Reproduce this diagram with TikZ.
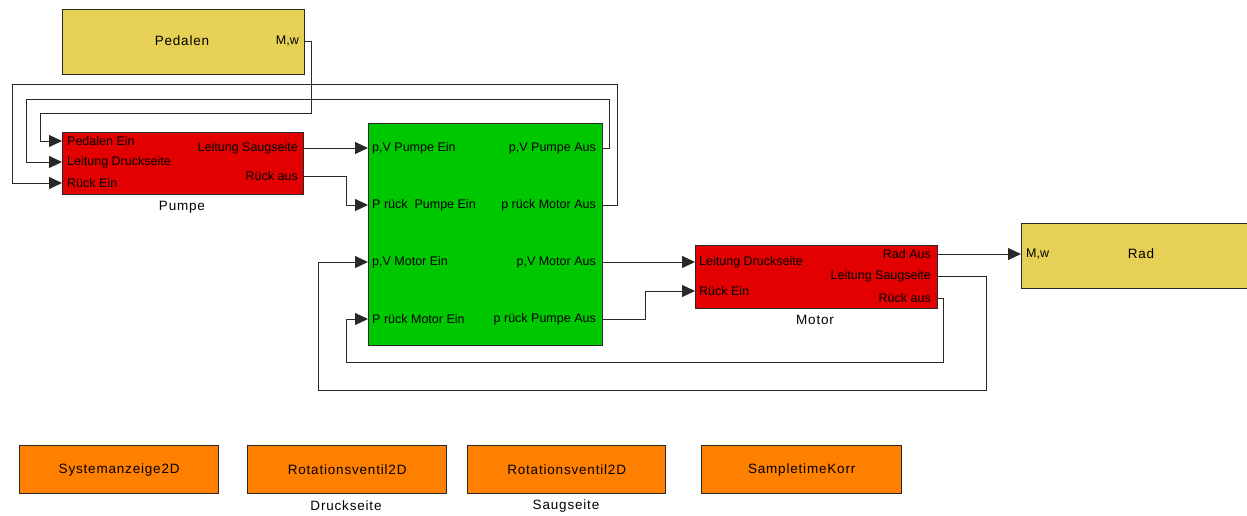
\documentclass[tikz,border=0pt]{standalone}
\usepackage{fontspec}
\setmainfont{Liberation Sans}
\newfontfamily\titlefont[LetterSpace=6]{Liberation Sans}
\usetikzlibrary{arrows.meta}
\definecolor{blkY}{RGB}{230,208,85}
\definecolor{blkR}{RGB}{226,0,0}
\definecolor{blkG}{RGB}{0,200,0}
\definecolor{blkO}{RGB}{255,128,0}
\definecolor{wireC}{RGB}{40,40,40}
\begin{document}
\begin{tikzpicture}[x=1pt,y=-1pt,
  blockbox/.style={draw=wireC, line width=1.3pt, inner sep=0pt, anchor=north west},
  portin/.style={anchor=west, font=\fontsize{12.5}{14}\selectfont, inner sep=0pt},
  portout/.style={anchor=east, font=\fontsize{12.5}{14}\selectfont, inner sep=0pt},
  titlelbl/.style={font=\titlefont\fontsize{13.5}{16}\selectfont, inner sep=0pt},
  wire/.style={draw=wireC, line width=1pt},
  arr/.style={wire, -{Triangle[length=13pt,width=12pt]}}
]
\useasboundingbox (0,0) rectangle (1247,515);

% Pedalen
\node[blockbox, fill=blkY, minimum width=242pt, minimum height=65pt] (pedalen) at (62,9) {};
\node[titlelbl] (pedT) at (182,41) {Pedalen};
\node[portout] (pedMw) at (299,41) {M,w};

% Pumpe
\node[blockbox, fill=blkR, minimum width=241pt, minimum height=62pt] (pumpe) at (62,132) {};
\node[portin] (pPE) at (67,141) {Pedalen Ein};
\node[portin] (pLD) at (67,162) {Leitung Druckseite};
\node[portin] (pRE) at (67,183) {Rück Ein};
\node[portout] (pLS) at (298,148) {Leitung Saugseite};
\node[portout] (pRA) at (298,176) {Rück aus};
\node[titlelbl] (pumpeT) at (182,207) {Pumpe};

% Green block
\node[blockbox, fill=blkG, minimum width=234pt, minimum height=222pt] (green) at (368,123) {};
\node[portin] (gPVE) at (372,148) {p,V Pumpe Ein};
\node[portin] (gPRE) at (372,205) {P rück~~Pumpe Ein};
\node[portin] (gPVME) at (372,262) {p,V Motor Ein};
\node[portin] (gPRME) at (372,319) {P rück Motor Ein};
\node[portout] (gPVA) at (596,148) {p,V Pumpe Aus};
\node[portout] (gPRMA) at (596,205) {p rück Motor Aus};
\node[portout] (gPVMA) at (596,262) {p,V Motor Aus};
\node[portout] (gPRPA) at (596,319) {p rück Pumpe Aus};

% Motor
\node[blockbox, fill=blkR, minimum width=242pt, minimum height=63pt] (motor) at (695,245) {};
\node[portin] (mLD) at (699,262) {Leitung Druckseite};
\node[portin] (mRE) at (699,291) {Rück Ein};
\node[portout] (mRad) at (931,254) {Rad Aus};
\node[portout] (mLS) at (931,276) {Leitung Saugseite};
\node[portout] (mRA) at (931,298) {Rück aus};
\node[titlelbl] (motorT) at (815,320) {Motor};

% Rad
\node[blockbox, fill=blkY, minimum width=240pt, minimum height=65pt] (rad) at (1021,223) {};
\node[titlelbl] (radT) at (1141,254) {Rad};
\node[portin] (radMw) at (1026,254) {M,w};

% Bottom blocks
\node[blockbox, fill=blkO, minimum width=199pt, minimum height=48pt] (sys) at (19,445) {};
\node[titlelbl] at (sys.center) {Systemanzeige2D};
\node[blockbox, fill=blkO, minimum width=199pt, minimum height=48pt] (rv1) at (247,445) {};
\node[titlelbl] at (rv1.center) {Rotationsventil2D};
\node[titlelbl] (rv1T) at (346,506) {Druckseite};
\node[blockbox, fill=blkO, minimum width=198pt, minimum height=48pt] (rv2) at (467,445) {};
\node[titlelbl] at (rv2.center) {Rotationsventil2D};
\node[titlelbl] (rv2T) at (566,506) {Saugseite};
\node[blockbox, fill=blkO, minimum width=200pt, minimum height=48pt] (stk) at (701,445) {};
\node[titlelbl] at (stk.center) {SampletimeKorr};

% Wires
\draw[arr] (pedMw -| pedalen.east) -- (311,41) -- (311,113) -- (40,113) |- (pPE -| pumpe.west);
\draw[arr] (gPVA -| green.east) -- (609,148) -- (609,99) -- (26,99) |- (pLD -| pumpe.west);
\draw[arr] (gPRMA -| green.east) -- (617,205) -- (617,84) -- (12,84) |- (pRE -| pumpe.west);
\draw[arr] (pLS -| pumpe.east) -- (gPVE -| green.west);
\draw[arr] (pRA -| pumpe.east) -- (346,176) |- (gPRE -| green.west);
\draw[arr] (gPVMA -| green.east) -- (mLD -| motor.west);
\draw[arr] (gPRPA -| green.east) -- (645,319) |- (mRE -| motor.west);
\draw[arr] (mRA -| motor.east) -- (943,298) -- (943,362) -- (346,362) |- (gPRME -| green.west);
\draw[arr] (mLS -| motor.east) -- (986,276) -- (986,390) -- (318,390) |- (gPVME -| green.west);
\draw[arr] (mRad -| motor.east) -- (radMw -| rad.west);
\end{tikzpicture}
\end{document}
